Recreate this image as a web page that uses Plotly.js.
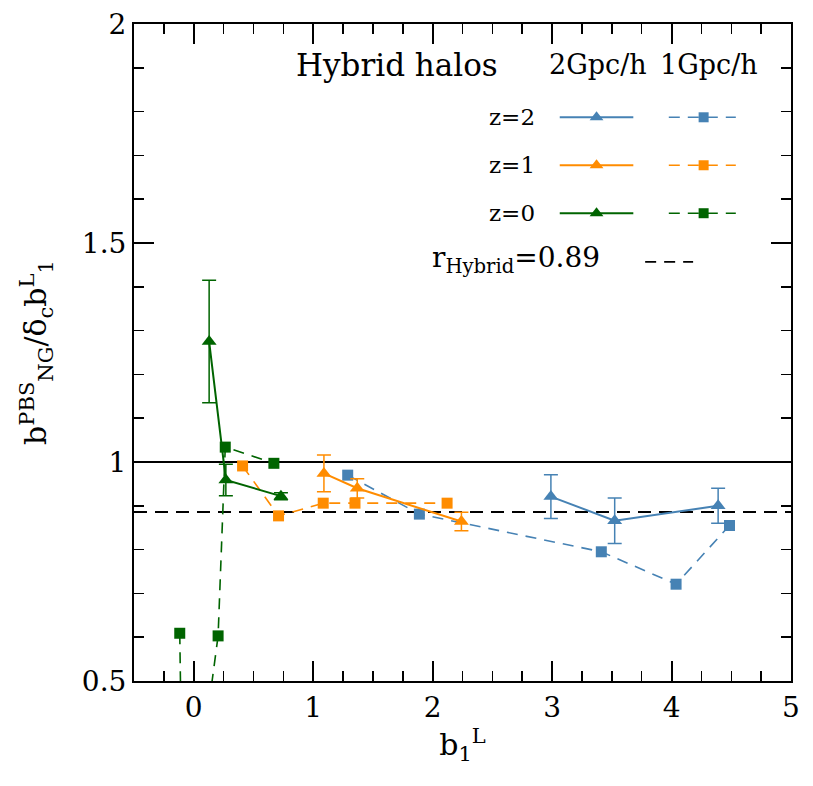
<!DOCTYPE html>
<html>
<head>
<meta charset="utf-8">
<script src="https://cdn.plot.ly/plotly-3.0.1.min.js"></script>
<style>
  body { margin: 0; background: #fff; }
  #plot { width: 813px; height: 786px; }
</style>
</head>
<body>
<div id="plot"></div>
<script>
// z=0 (green)
let z0BigX = [0.129, 0.269, 0.730];
let z0BigY = [1.275, 0.959, 0.922];
let z0BigErr = [0.140, 0.036, 0.008];
let z0SmallX = [-0.117, -0.085, 0.204, 0.264, 0.671];
let z0SmallY = [0.609, 0.010, 0.603, 1.034, 0.997];

// z=1 (orange)
let z1BigX = [1.090, 1.369, 2.241];
let z1BigY = [0.974, 0.940, 0.864];
let z1BigErr = [0.042, 0.022, 0.021];
let z1SmallX = [0.409, 0.710, 1.084, 1.350, 2.121];
let z1SmallY = [0.991, 0.877, 0.906, 0.906, 0.906];

// z=2 (blue)
let z2BigX = [2.990, 3.524, 4.390];
let z2BigY = [0.921, 0.866, 0.900];
let z2BigErr = [0.050, 0.052, 0.040];
let z2SmallX = [1.289, 1.889, 3.412, 4.038, 4.485];
let z2SmallY = [0.970, 0.881, 0.795, 0.721, 0.855];

let rHybrid = 0.886;

let colors = ['#4682B4', '#FF8C00', '#006400'];
let zLabels = ['z=2', 'z=1', 'z=0'];
let boxLabels = ['2Gpc/h', '1Gpc/h'];

let fontFam = '"DejaVu Serif", serif';

function bigTrace(x, y, err, color) {
    return {
        type: 'scatter', mode: 'lines+markers',
        x: x, y: y,
        line: {color: color, width: 2},
        marker: {symbol: 'triangle-up', size: 13, color: color},
        error_y: {type: 'data', array: err, color: color, thickness: 1.5, width: 7},
        showlegend: false
    };
}

function smallTrace(x, y, color) {
    return {
        type: 'scatter', mode: 'lines+markers',
        x: x, y: y,
        line: {color: color, width: 1.6, dash: '11px,8px'},
        marker: {symbol: 'square', size: 11, color: color},
        showlegend: false
    };
}

let data = [
    smallTrace(z2SmallX, z2SmallY, colors[0]),
    smallTrace(z1SmallX, z1SmallY, colors[1]),
    smallTrace(z0SmallX, z0SmallY, colors[2]),
    bigTrace(z2BigX, z2BigY, z2BigErr, colors[0]),
    bigTrace(z1BigX, z1BigY, z1BigErr, colors[1]),
    bigTrace(z0BigX, z0BigY, z0BigErr, colors[2])
];

// hand-made legend on an overlay axis (0..1 of the plot box)
let rowY = [0.858, 0.785, 0.712];
let annotations = [];
for (let i = 0; i < zLabels.length; i++) {
    data.push({
        type: 'scatter', mode: 'lines', xaxis: 'x2', yaxis: 'y2',
        x: [0.648, 0.760], y: [rowY[i], rowY[i]],
        line: {color: colors[i], width: 2}, showlegend: false, hoverinfo: 'skip'
    });
    data.push({
        type: 'scatter', mode: 'markers', xaxis: 'x2', yaxis: 'y2',
        x: [0.704], y: [rowY[i]],
        marker: {symbol: 'triangle-up', size: 12, color: colors[i]}, showlegend: false, hoverinfo: 'skip'
    });
    data.push({
        type: 'scatter', mode: 'lines', xaxis: 'x2', yaxis: 'y2',
        x: [0.814, 0.916], y: [rowY[i], rowY[i]],
        line: {color: colors[i], width: 1.6, dash: '11px,8px'}, showlegend: false, hoverinfo: 'skip'
    });
    data.push({
        type: 'scatter', mode: 'markers', xaxis: 'x2', yaxis: 'y2',
        x: [0.867], y: [rowY[i]],
        marker: {symbol: 'square', size: 10, color: colors[i]}, showlegend: false, hoverinfo: 'skip'
    });
    annotations.push({
        xref: 'paper', yref: 'paper', x: 0.614, y: rowY[i],
        xanchor: 'right', yanchor: 'middle', showarrow: false,
        text: zLabels[i], font: {family: fontFam, size: 23, color: '#000'}
    });
}
data.push({
    type: 'scatter', mode: 'lines', xaxis: 'x2', yaxis: 'y2',
    x: [0.778, 0.851], y: [0.638, 0.638],
    line: {color: '#000', width: 1.6, dash: '11px,8px'}, showlegend: false, hoverinfo: 'skip'
});

annotations.push({
    xref: 'paper', yref: 'paper', x: 0.401, y: 0.938,
    xanchor: 'center', yanchor: 'middle', showarrow: false,
    text: 'Hybrid halos', font: {family: fontFam, size: 31, color: '#000'}
});
annotations.push({
    xref: 'paper', yref: 'paper', x: 0.706, y: 0.938,
    xanchor: 'center', yanchor: 'middle', showarrow: false,
    text: boxLabels[0], font: {family: fontFam, size: 27, color: '#000'}
});
annotations.push({
    xref: 'paper', yref: 'paper', x: 0.875, y: 0.938,
    xanchor: 'center', yanchor: 'middle', showarrow: false,
    text: boxLabels[1], font: {family: fontFam, size: 27, color: '#000'}
});
annotations.push({
    xref: 'paper', yref: 'paper', x: 0.712, y: 0.641,
    xanchor: 'right', yanchor: 'middle', showarrow: false,
    text: 'r<sub>Hybrid</sub>=' + rHybrid.toFixed(2),
    font: {family: fontFam, size: 28, color: '#000'}
});

let axisCommon = {
    showline: true, linewidth: 2, linecolor: '#000',
    mirror: 'allticks', ticks: 'inside', ticklen: 20, tickwidth: 2, tickcolor: '#000',
    showgrid: false, zeroline: false,
    tickfont: {family: fontFam, size: 28, color: '#000'}
};

let layout = {
    width: 813, height: 786,
    margin: {l: 134, r: 22, t: 24, b: 105},
    paper_bgcolor: '#fff', plot_bgcolor: '#fff',
    xaxis: Object.assign({}, axisCommon, {
        range: [-0.5, 5], tick0: 0, dtick: 1,
        minor: {dtick: 0.25, ticks: 'inside', ticklen: 10, tickwidth: 1.5, tickcolor: '#000'},
        title: {text: 'b<sub>1</sub><sup>L</sup>', font: {family: fontFam, size: 30, color: '#000'}, standoff: 8}
    }),
    yaxis: Object.assign({}, axisCommon, {
        range: [0.5, 2], tick0: 0.5, dtick: 0.5,
        minor: {dtick: 0.1, ticks: 'inside', ticklen: 10, tickwidth: 1.5, tickcolor: '#000'},
        title: {text: 'b<sup>PBS</sup><sub>NG</sub>/δ<sub>c</sub>b<sup>L</sup><sub>1</sub>', font: {family: fontFam, size: 30, color: '#000'}, standoff: 26}
    }),
    xaxis2: {overlaying: 'x', anchor: 'y2', range: [0, 1], visible: false, fixedrange: true},
    yaxis2: {overlaying: 'y', anchor: 'x2', range: [0, 1], visible: false, fixedrange: true},
    shapes: [
        {type: 'line', xref: 'paper', yref: 'y', x0: 0, x1: 1, y0: 1, y1: 1,
         line: {color: '#000', width: 2}, layer: 'below'},
        {type: 'line', xref: 'paper', yref: 'y', x0: 0, x1: 1, y0: rHybrid, y1: rHybrid,
         line: {color: '#000', width: 2, dash: '13px,8px'}, layer: 'below'}
    ],
    annotations: annotations
};

Plotly.newPlot(document.getElementById('plot'), data, layout, {staticPlot: true});
</script>
</body>
</html>
